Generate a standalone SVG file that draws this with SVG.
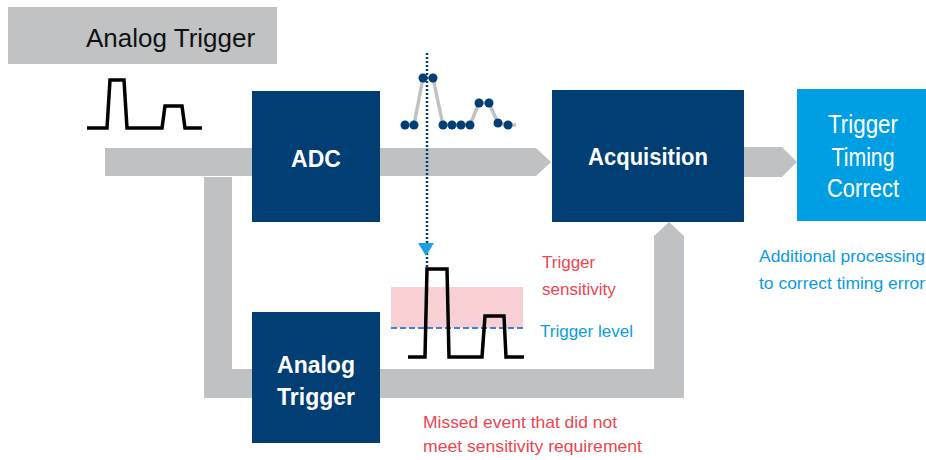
<svg xmlns="http://www.w3.org/2000/svg" width="926" height="460" viewBox="0 0 926 460">
<style>
.band{fill:#BFC1C3}
.dark{fill:#003E74}
.light{fill:#009FE3}
.wt{font-family:"Liberation Sans",Arial,sans-serif;fill:#fff;text-anchor:middle}
.b{font-weight:bold;font-size:23px}
.r{font-size:25px}
.red{font-family:"Liberation Sans",Arial,sans-serif;font-size:17px;fill:#EE4450}
.blue{font-family:"Liberation Sans",Arial,sans-serif;font-size:17px;fill:#0A9BE0}
.pulse{fill:none;stroke:#000;stroke-width:3.5;stroke-linejoin:miter}
.dot{fill:#003E74}
</style>
<rect width="926" height="460" fill="#fff"/>
<g id="title">
<rect x="8" y="7" width="269" height="57" fill="#C0C2C4"/>
<text x="86" y="47" font-family="Liberation Sans,Arial,sans-serif" font-size="26" fill="#111">Analog Trigger</text>
</g>
<path class="pulse" d="M87,128 H107 L110,80 H124 L127,128 H162 L165,106 H182 L185,128 H202"/>
<g id="connectors">
<polygon class="band" points="105,148 536,148 551,162 536,176 105,176"/>
<polygon class="band" points="744,147 782,147 797,162 782,177 744,177"/>
<polygon class="band" points="204,177 232,177 232,369 654,369 654,236 669,222 684,236 684,398 204,398"/>
</g>
<g id="samples">
<polyline points="405,125 414,125 423,78 433,78 443,125 470,125 479,103 489,103 498,123 508,125 516,125" fill="none" stroke="#BFC1C3" stroke-width="3.5"/>
<circle class="dot" cx="405" cy="125" r="4.5"/><circle class="dot" cx="414" cy="125" r="4.5"/>
<circle class="dot" cx="423" cy="78" r="4.5"/><circle class="dot" cx="433" cy="78" r="4.5"/>
<circle class="dot" cx="443" cy="125" r="4.5"/><circle class="dot" cx="452" cy="125" r="4.5"/>
<circle class="dot" cx="461" cy="125" r="4.5"/><circle class="dot" cx="470" cy="125" r="4.5"/>
<circle class="dot" cx="479" cy="103" r="4.5"/><circle class="dot" cx="489" cy="103" r="4.5"/>
<circle class="dot" cx="498" cy="123" r="4.5"/><circle class="dot" cx="508" cy="125" r="4.5"/>
</g>
<g id="adc">
<rect class="dark" x="252" y="91" width="128" height="131"/>
<text class="wt b" x="316" y="167">ADC</text>
</g>
<g id="analog-trigger">
<rect class="dark" x="252" y="312" width="128" height="131"/>
<text class="wt b" x="316" y="373">Analog</text>
<text class="wt b" x="316" y="405">Trigger</text>
</g>
<g id="acquisition">
<rect class="dark" x="552" y="90" width="192" height="132"/>
<text class="wt b" x="648" y="165" textLength="120" lengthAdjust="spacingAndGlyphs">Acquisition</text>
</g>
<g id="timing-correct">
<rect class="light" x="797" y="89" width="129" height="132"/>
<text class="wt r" x="863" y="133" textLength="70" lengthAdjust="spacingAndGlyphs">Trigger</text>
<text class="wt r" x="863" y="166" textLength="63" lengthAdjust="spacingAndGlyphs">Timing</text>
<text class="wt r" x="863" y="197" textLength="72" lengthAdjust="spacingAndGlyphs">Correct</text>
</g>
<g id="sensitivity">
<rect x="391" y="287" width="132" height="41" fill="#F8CFD2"/>
<line x1="391" y1="328" x2="523" y2="328" stroke="#3B82D6" stroke-width="1.8" stroke-dasharray="6,3"/>
<path class="pulse" d="M408,357 H425 L427,269 H447 L449,357 H482 L485,316 H504 L506,357 H524"/>
</g>
<g id="trigger-point">
<line x1="427" y1="53" x2="427" y2="268" stroke="#003E74" stroke-width="2.5" stroke-dasharray="2,2"/>
<polygon points="418,243 434,243 426,256" fill="#1BA0E2"/>
</g>
<text class="red" x="542" y="268">Trigger</text>
<text class="red" x="542" y="295">sensitivity</text>
<text class="blue" x="540" y="337">Trigger level</text>
<text class="blue" x="759" y="262" textLength="166" lengthAdjust="spacingAndGlyphs">Additional processing</text>
<text class="blue" x="759" y="289" textLength="166" lengthAdjust="spacingAndGlyphs">to correct timing error</text>
<text class="red" x="423" y="428" textLength="194" lengthAdjust="spacingAndGlyphs">Missed event that did not</text>
<text class="red" x="423" y="452" textLength="219" lengthAdjust="spacingAndGlyphs">meet sensitivity requirement</text>
</svg>
